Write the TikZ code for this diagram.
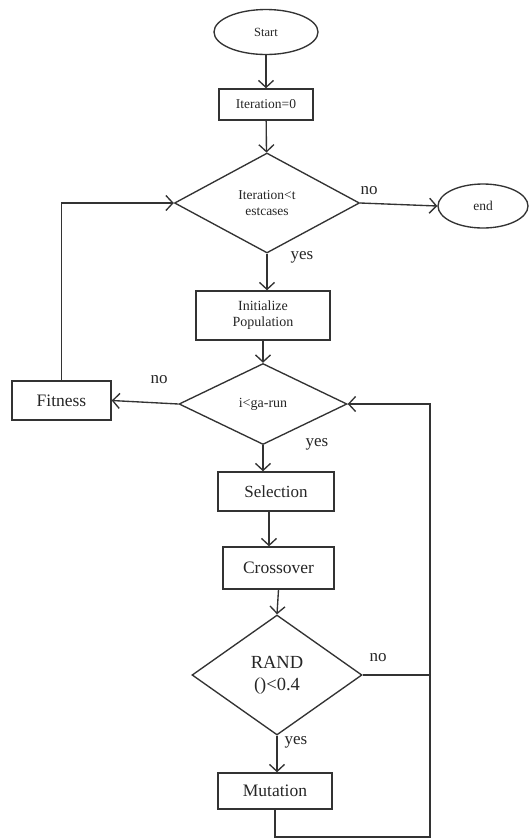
\documentclass[tikz,border=0pt]{standalone}
\usepackage{fontspec}
\setmainfont{Liberation Serif}
\usetikzlibrary{shapes.geometric,arrows.meta}
\begin{document}
\begin{tikzpicture}[x=1pt,y=-1pt, line width=1.35pt,
 every node/.style={text=black!85},
 box/.style={draw=black!80, rectangle, inner sep=0pt, align=center},
 dia/.style={draw=black!80, diamond, inner sep=0pt, align=center},
 oval/.style={draw=black!80, ellipse, inner sep=0pt},
 arr/.style={draw=black!80, -{Straight Barb[length=7pt,width=15pt]}},
 ln/.style={draw=black!80},
 lab/.style={font=\fontsize{17}{17}\selectfont}]
\useasboundingbox (0,0) rectangle (529,839);
\node[oval, minimum width=104pt, minimum height=45pt, font=\fontsize{12.5}{13}\selectfont] (start) at (266,32) {Start};
\node[box, minimum width=94pt, minimum height=31pt, font=\fontsize{13.5}{14}\selectfont] (it0) at (266,104.5) {Iteration=0};
\node[dia, minimum width=185pt, minimum height=100pt, font=\fontsize{13.5}{16}\selectfont] (d1) at (267,203) {Iteration<t\\estcases};
\node[oval, minimum width=90pt, minimum height=44pt, font=\fontsize{13.5}{14}\selectfont] (end) at (483,206) {end};
\node[box, minimum width=134pt, minimum height=49pt, font=\fontsize{14}{16}\selectfont] (init) at (263,315.5) {Initialize\\Population};
\node[dia, minimum width=168pt, minimum height=81pt, font=\fontsize{14}{15}\selectfont] (d2) at (263,404) {i<ga-run};
\node[box, minimum width=99pt, minimum height=39pt, font=\fontsize{17.5}{18}\selectfont] (fit) at (61.5,400.5) {Fitness};
\node[box, minimum width=116pt, minimum height=39pt, font=\fontsize{17}{18}\selectfont] (sel) at (276,491.5) {Selection};
\node[box, minimum width=111pt, minimum height=42pt, font=\fontsize{17.5}{18}\selectfont] (cross) at (278.5,568) {Crossover};
\node[dia, minimum width=170pt, minimum height=120pt, font=\fontsize{18.5}{22}\selectfont] (d3) at (277,675) {RAND\\()<0.4};
\node[box, minimum width=114pt, minimum height=36pt, font=\fontsize{17.5}{18}\selectfont] (mut) at (275,791) {Mutation};
\coordinate (rt) at (430,404);
\coordinate (bot) at (430,837);
\draw[arr] (start) -- (it0);
\draw[arr] (it0) -- (d1);
\draw[arr] (d1.east) -- (end.west);
\draw[arr] (d1.south) -- (d1.south |- init.north);
\draw[arr] (init) -- (d2);
\draw[arr] (d2.west) -- (fit.east);
\draw[arr] (fit.north) |- (d1.west);
\draw[arr] (d2.south) -- (d2.south |- sel.north);
\draw[arr] ([xshift=-7pt]sel.south) -- ([xshift=-7pt]sel.south |- cross.north);
\draw[arr] (cross.south) -- (d3.north);
\draw[arr] (d3.south) -- (d3.south |- mut.north);
\draw[ln] (d3.east) -- (d3.east -| rt);
\draw[arr] (mut.south) |- (bot) -- (rt) -- (d2.east);
\node[lab] (no1) at (369,191) {no};
\node[lab] (yes1) at (302,257) {yes};
\node[lab] (no2) at (159,380) {no};
\node[lab] (yes2) at (317,444) {yes};
\node[lab] (no3) at (378,658) {no};
\node[lab] (yes3) at (296,742) {yes};
\end{tikzpicture}
\end{document}
